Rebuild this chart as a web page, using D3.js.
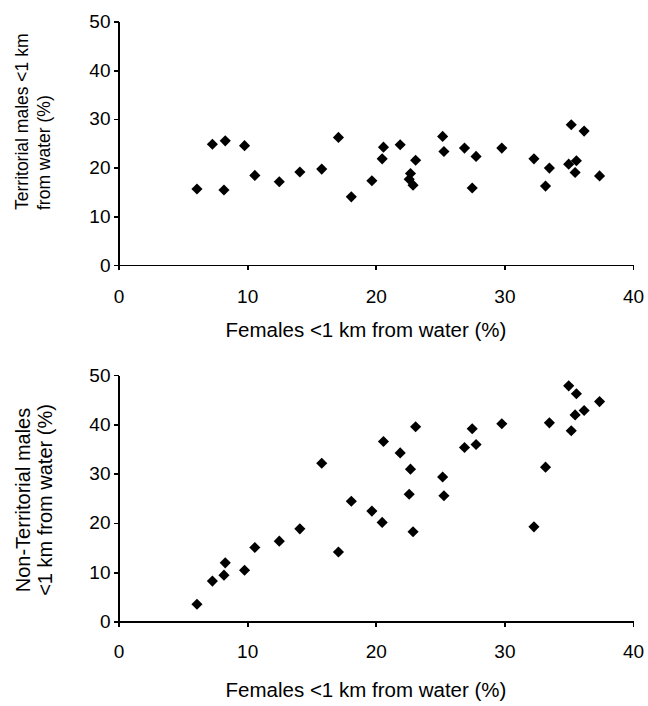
<!DOCTYPE html>
<html>
<head>
<meta charset="utf-8">
<script src="https://cdn.jsdelivr.net/npm/d3@7"></script>
<style>
  html, body { margin: 0; padding: 0; background: #fff; }
  svg { display: block; font-family: Arial, "Liberation Sans", Helvetica, sans-serif; }
  .axis path, .axis line { stroke: #000; stroke-width: 1.8; shape-rendering: crispEdges; }
  .axis text { fill: #000; font-size: 19px; }
</style>
</head>
<body>
<svg id="chart" width="648" height="706"></svg>
<script>
// Percentage of females located less than 1 km from water, per sample
const females = [6.1, 7.3, 8.2, 8.3, 9.8, 10.6, 12.5, 14.1, 15.8, 17.1, 18.1, 19.7,
  20.5, 20.6, 21.9, 22.6, 22.7, 22.9, 23.1, 25.2, 25.3, 26.9, 27.5, 27.8, 29.8,
  32.3, 33.2, 33.5, 35.0, 35.2, 35.5, 35.6, 36.2, 37.4];

// Territorial males less than 1 km from water (%), same samples
const territorialMales = [15.6, 24.8, 15.4, 25.5, 24.5, 18.4, 17.1, 19.1, 19.7, 26.2, 14.0, 17.3,
  21.8, 24.2, 24.7, 17.6, 18.8, 16.4, 21.5, 26.4, 23.3, 24.0, 15.8, 22.3, 24.0,
  21.8, 16.2, 19.9, 20.7, 28.8, 19.0, 21.4, 27.5, 18.3];

// Non-territorial males less than 1 km from water (%), same samples
const nonTerritorialMales = [3.5, 8.2, 9.4, 11.9, 10.4, 15.0, 16.3, 18.8, 32.1, 14.1, 24.4, 22.4,
  20.1, 36.5, 34.2, 25.8, 30.9, 18.2, 39.5, 29.3, 25.5, 35.3, 39.1, 35.9, 40.1,
  19.2, 31.3, 40.3, 47.8, 38.7, 41.9, 46.2, 42.8, 44.6];

const xTicks = [0, 10, 20, 30, 40];
const yTicks = [0, 10, 20, 30, 40, 50];
const xTitle = "Females <1 km from water (%)";
const topTitle = ["Territorial males <1 km", "from water (%)"];
const bottomTitle = ["Non-Territorial males", "<1 km from water (%)"];

const svg = d3.select("#chart");
const x0 = 118.5, x1 = 633;

const panels = [
  { y: territorialMales, top: 21.5, bottom: 265, title: topTitle, titleSize: 17.5,
    titleAnchor: "start", titleY: 210, titleX: [28, 50], tickBase: 38, xTitleBase: 72 },
  { y: nonTerritorialMales, top: 375, bottom: 621.5, title: bottomTitle, titleSize: 20,
    titleAnchor: "middle", titleY: 500, titleX: [30, 52], tickBase: 36, xTitleBase: 75.5 }
];

const diamond = d3.symbol().type(d3.symbolSquare).size(62);

panels.forEach(p => {
  const x = d3.scaleLinear().domain([0, 40]).range([x0, x1]);
  const y = d3.scaleLinear().domain([0, 50]).range([p.bottom, p.top]);

  const g = svg.append("g");

  // y axis
  g.append("g").attr("class", "axis")
    .attr("transform", `translate(${x0},0)`)
    .call(d3.axisLeft(y).tickValues(yTicks).tickSize(5).tickSizeOuter(0).tickPadding(3));

  // x axis
  const xa = g.append("g").attr("class", "axis")
    .attr("transform", `translate(0,${p.bottom})`)
    .call(d3.axisBottom(x).tickValues(xTicks).tickSize(5).tickSizeOuter(0));
  xa.selectAll("text").attr("y", p.tickBase).attr("dy", 0);

  // x axis title
  g.append("text")
    .attr("x", 366)
    .attr("y", p.bottom + p.xTitleBase)
    .attr("text-anchor", "middle")
    .style("font-size", "20.5px")
    .text(xTitle);

  // y axis title, two lines
  p.title.forEach((line, i) => {
    g.append("text")
      .attr("transform", `translate(${p.titleX[i]},${p.titleY}) rotate(-90)`)
      .attr("text-anchor", p.titleAnchor)
      .style("font-size", p.titleSize + "px")
      .text(line);
  });

  // data points as diamonds
  g.append("g").selectAll("path")
    .data(females.map((f, i) => [f, p.y[i]]))
    .join("path")
    .attr("d", diamond)
    .attr("transform", d => `translate(${x(d[0])},${y(d[1])}) rotate(45)`)
    .attr("fill", "#000");
});
</script>
</body>
</html>
